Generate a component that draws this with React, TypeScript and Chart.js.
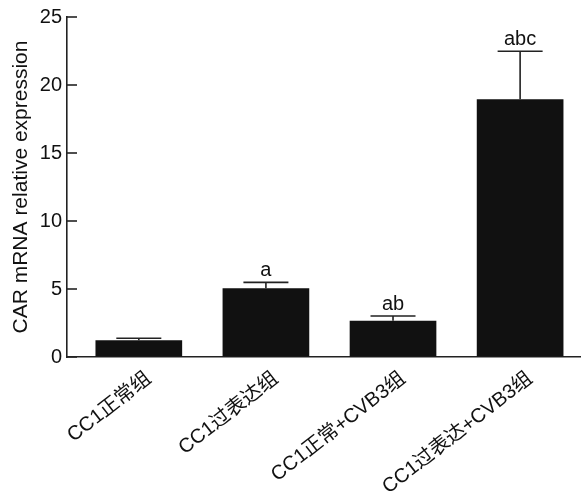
import React, { useEffect, useRef } from "react";
import { Chart, registerables } from "chart.js";

Chart.register(...registerables);

const categories = ["CC1正常组", "CC1过表达组", "CC1正常+CVB3组", "CC1过表达+CVB3组"];
const means = [1.23, 5.05, 2.67, 18.95];
const errors = [0.15, 0.44, 0.34, 3.53];
const sigLabels = ["", "a", "ab", "abc"];
const yTicks = [0, 5, 10, 15, 20, 25];

const FONT = "'Liberation Sans', Arial, Helvetica, 'Noto Sans CJK SC', sans-serif";
const INK = "#111111";
const AXIS = "#222222";

const errorBarPlugin = {
  id: "errorBars",
  afterDatasetsDraw(chart: any) {
    const { ctx, scales } = chart;
    const xs = scales.x;
    const ys = scales.y;
    ctx.save();
    ctx.strokeStyle = AXIS;
    ctx.lineWidth = 1.6;
    ctx.fillStyle = INK;
    ctx.font = `20px ${FONT}`;
    ctx.textAlign = "center";
    ctx.textBaseline = "alphabetic";
    means.forEach((m, i) => {
      const x = xs.getPixelForValue(i);
      const yb = ys.getPixelForValue(m);
      const yt = ys.getPixelForValue(m + errors[i]);
      ctx.beginPath();
      ctx.moveTo(x, yb);
      ctx.lineTo(x, yt);
      ctx.moveTo(x - 22.5, yt);
      ctx.lineTo(x + 22.5, yt);
      ctx.stroke();
      if (sigLabels[i]) ctx.fillText(sigLabels[i], x, yt - 6);
    });
    // inward y ticks
    const left = chart.chartArea.left;
    yTicks.forEach((t) => {
      const y = ys.getPixelForValue(t);
      ctx.beginPath();
      ctx.moveTo(left, y);
      ctx.lineTo(left + 10, y);
      ctx.stroke();
    });
    ctx.restore();
  },
};

export default function App() {
  const ref = useRef<HTMLCanvasElement | null>(null);
  useEffect(() => {
    if (!ref.current) return;
    const chart = new Chart(ref.current, {
      type: "bar",
      data: {
        datasets: [
          {
            data: means.map((v, i) => ({ x: i, y: v })),
            backgroundColor: INK,
            borderWidth: 0,
            barPercentage: 0.682,
            categoryPercentage: 1,
          },
        ],
      },
      options: {
        responsive: false,
        animation: false,
        maintainAspectRatio: false,
        layout: { padding: { top: 17, right: 0, bottom: 0, left: 0 } },
        plugins: { legend: { display: false }, tooltip: { enabled: false } },
        scales: {
          x: {
            type: "linear",
            offset: false,
            min: -0.565,
            max: 3.479,
            grid: { drawOnChartArea: false, drawTicks: false, offset: false },
            border: { display: true, color: AXIS, width: 1.6 },
            ticks: {
              autoSkip: false,
              minRotation: 38,
              maxRotation: 38,
              padding: 10,
              labelOffset: 10,
              color: INK,
              font: { family: FONT, size: 20 },
              callback: (v: any) => categories[v as number] ?? "",
            },
            afterBuildTicks: (scale: any) => {
              scale.ticks = categories.map((_, i) => ({ value: i }));
            },
            afterFit: (scale: any) => {
              scale.height = 147;
              scale.paddingLeft = 0;
              scale.paddingRight = 0;
            },
          },
          y: {
            min: 0,
            max: 25,
            grid: { drawOnChartArea: false, drawTicks: false },
            border: { display: true, color: AXIS, width: 1.6 },
            ticks: {
              stepSize: 5,
              padding: 5,
              color: INK,
              font: { family: FONT, size: 20 },
            },
            afterBuildTicks: (scale: any) => {
              scale.ticks = yTicks.map((v) => ({ value: v }));
            },
            title: {
              display: true,
              text: "CAR mRNA relative expression",
              color: INK,
              font: { family: FONT, size: 21 },
              padding: { top: 9, bottom: 0 },
            },
            afterFit: (scale: any) => {
              scale.width = 67;
              scale.paddingTop = 0;
              scale.paddingBottom = 0;
            },
          },
        },
      },
      plugins: [errorBarPlugin],
    });
    return () => chart.destroy();
  }, []);
  return (
    <div style={{ position: "absolute", left: 0, top: 0, width: 581, height: 504, background: "#fff" }}>
      <canvas ref={ref} width={581} height={504} />
    </div>
  );
}
